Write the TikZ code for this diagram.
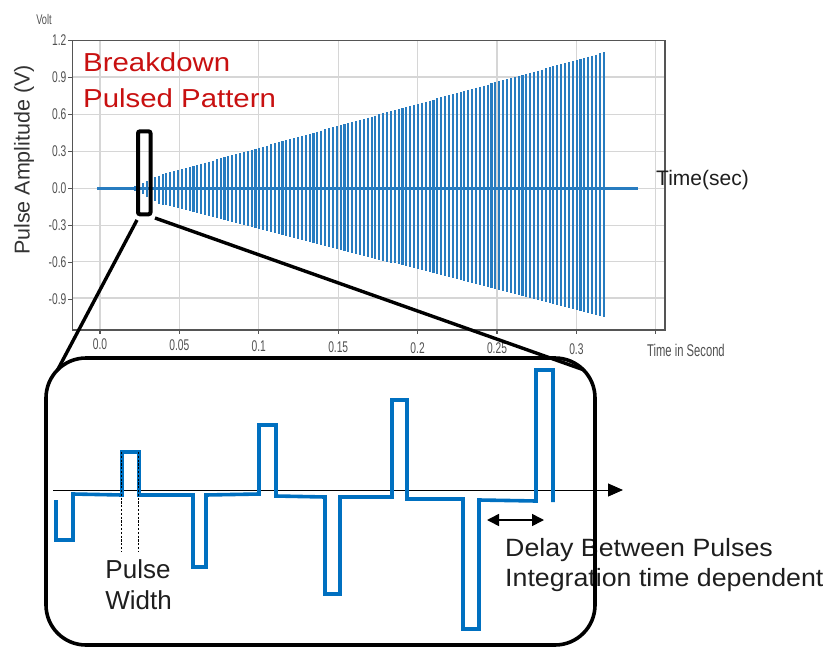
\documentclass[tikz,border=0pt]{standalone}
\usepackage{fontspec}
\setmainfont{Liberation Sans}
\newfontfamily\condfont[FakeStretch=0.66]{Liberation Sans}
\newfontfamily\widefont[FakeStretch=1.07]{Liberation Sans}
\newfontfamily\titlefont[FakeStretch=1.13]{Liberation Sans}
\usetikzlibrary{arrows.meta}
\definecolor{sigblue}{RGB}{40,124,192}
\definecolor{pulseblue}{RGB}{0,112,192}
\definecolor{gridgray}{RGB}{214,214,214}
\definecolor{axgray}{RGB}{85,85,85}
\definecolor{ticktext}{RGB}{80,80,80}
\definecolor{titlered}{RGB}{200,16,16}
\definecolor{textdark}{RGB}{30,30,30}
\begin{document}
\begin{tikzpicture}[x=1pt,y=-1pt,
  gridline/.style={draw=gridgray, line width=1.2},
  plotframe/.style={draw=axgray, line width=1.3},
  tickmark/.style={draw=axgray, line width=1.1},
  ticklbl/.style={font=\condfont\fontsize{15.5}{15.5}\selectfont, text=ticktext, inner sep=0},
  spikeline/.style={draw=sigblue, line width=2.1},
  bigline/.style={draw=black, line width=3.6},
  pulse/.style={draw=pulseblue, line width=3.6, line join=miter},
  lbl/.style={font=\fontsize{26}{31}\selectfont, text=textdark, inner sep=0},
  dlbl/.style={font=\widefont\fontsize{25}{30}\selectfont, text=textdark, inner sep=0},
]
\useasboundingbox (0,0) rectangle (826,647);
% grid
\foreach \gy in {77,114.7,151.7,188.3,225.7,261.7,298}{
  \draw[gridline] (72.5,\gy) -- (665,\gy);
}
\foreach \i in {0,...,7}{
  \draw[gridline] ({100+\i*79.4},40.3) -- ({100+\i*79.4},330);
  \draw[tickmark] ({100+\i*79.4},330) -- ({100+\i*79.4},334);
}
% frame
\draw[plotframe] (72.5,40.3) rectangle (665,330);
% y ticks and labels
\foreach \v [count=\k] in {1.2,0.9,0.6,0.3,0.0,-0.3,-0.6,-0.9}{
  \draw[tickmark] (68,{188.3-(\v)*123.33}) -- (72.5,{188.3-(\v)*123.33});
  \node[ticklbl, anchor=east] (yl\k) at (66.5,{188.3-(\v)*123.33}) {\v};
}
% x labels
\node[ticklbl] (xl0) at (100,344.5) {0.0};
\node[ticklbl] (xl1) at (179.4,345.5) {0.05};
\node[ticklbl] (xl2) at (258.8,346.5) {0.1};
\node[ticklbl] (xl3) at (338.2,347.5) {0.15};
\node[ticklbl] (xl4) at (417.6,348) {0.2};
\node[ticklbl] (xl5) at (497,348.5) {0.25};
\node[ticklbl] (xl6) at (576.4,349) {0.3};
\node[ticklbl, font=\condfont\fontsize{17}{17}\selectfont, anchor=west] (xunit) at (647,350) {Time in Second};
\node[ticklbl, font=\condfont\fontsize{14}{14}\selectfont] (yunit) at (44,19.5) {Volt};
% axis title
\node[font=\fontsize{21.5}{21.5}\selectfont, text=black!80, rotate=90, inner sep=0] (ytitle) at (24,160) {Pulse Amplitude (V)};
% signal
\draw[sigblue, line width=3] (97,188.3) -- (638,188.3);
\foreach \i in {0,...,125}{
  \pgfmathsetmacro\xx{120+\i*3.87}
  \pgfmathsetmacro\ap{\xx<157 ? 0.10*((\xx-118)/39)^2 : 0.10+(\xx-157)*0.00224}
  \pgfmathsetmacro\an{\xx<157 ? 0.12*((\xx-118)/39)^2 : 0.12+(\xx-157)*0.00206}
  \draw[spikeline] (\xx,{188.3-\ap*123.3}) -- (\xx,{188.3+\an*123.3});
}
% titles
\node[font=\titlefont\fontsize{26}{26}\selectfont, text=titlered, anchor=base west, inner sep=0] (tt1) at (83,71.7) {Breakdown};
\node[font=\titlefont\fontsize{26}{26}\selectfont, text=titlered, anchor=base west, inner sep=0] (tt2) at (83,107.3) {Pulsed Pattern};
\node[font=\fontsize{21}{21}\selectfont, text=textdark, anchor=base west, inner sep=0] (tsec) at (656,185) {Time(sec)};
% zoom box
\node[draw, line width=4, rounded corners=2, minimum width=12.5, minimum height=83, inner sep=0] (zoom) at (144.25,172.8) {};
\coordinate (zl) at (137,220);
\coordinate (zr) at (155,218);
\coordinate (pl) at (57.7,369.7);
\coordinate (pr) at (583.3,369.7);
\draw[draw=black, line width=3.4] (zl) -- (pl);
\draw[draw=black, line width=3.4] (zr) -- (pr);
% lower panel
\coordinate (ax0) at (53,490);
\coordinate (ax1) at (623,490);
\draw[black, line width=1, -{Triangle[length=15,width=13]}] (ax0) -- (ax1);
\draw[pulse] (56,500) -- (56,540) -- (73,540) -- (73,494) -- (122,495) -- (122,452) -- (139,452) -- (139,495) -- (193,495) -- (193,567) -- (206,567) -- (206,495) -- (259,494) -- (259,425) -- (276,425) -- (276,496) -- (325,497) -- (325,594) -- (340,594) -- (340,497) -- (392,497) -- (392,400) -- (407,400) -- (407,499) -- (463,499) -- (463,629) -- (479,629) -- (479,500) -- (536,501) -- (536,370) -- (553,370) -- (553,502);
\draw[black, line width=0.8, dash pattern=on 2.2 off 1.6] (121.7,452) -- (121.7,552);
\draw[black, line width=0.8, dash pattern=on 2.2 off 1.6] (138.3,452) -- (138.3,552);
\node[lbl, anchor=base] (pw1) at (138,578) {Pulse};
\node[lbl, anchor=base] (pw2) at (138.5,609) {Width};
\coordinate (d0) at (487,520);
\coordinate (d1) at (544,520);
\draw[black, line width=1.6, {Triangle[length=12,width=12]}-{Triangle[length=12,width=12]}] (d0) -- (d1);
\node[dlbl, anchor=base west] (dl1) at (505,556) {Delay Between Pulses};
\node[dlbl, anchor=base west] (dl2) at (505,586) {Integration time dependent};
\node[bigline, rounded corners=40, minimum width=549, minimum height=287, inner sep=0] (panel) at (320.5,501.5) {};
\end{tikzpicture}
\end{document}
